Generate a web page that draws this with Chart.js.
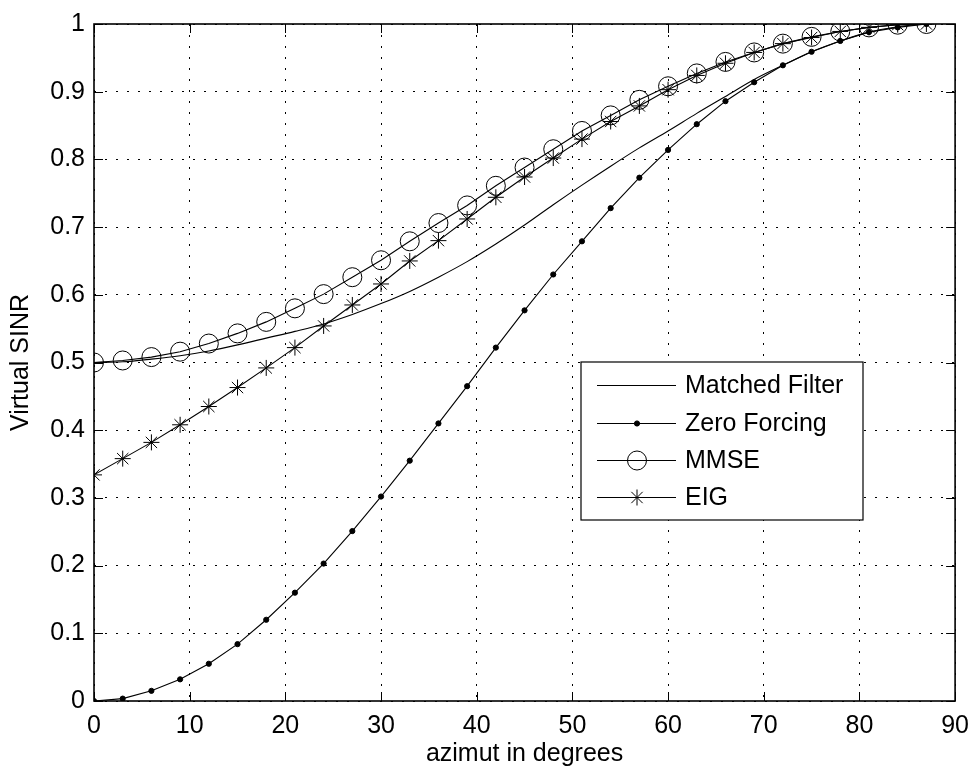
<!DOCTYPE html>
<html>
<head>
<meta charset="utf-8">
<script src="https://cdn.jsdelivr.net/npm/chart.js@4"></script>
<style>
  html, body { margin: 0; padding: 0; background: #fff; }
  #wrap { width: 979px; height: 771px; }
</style>
</head>
<body>
<div id="wrap"><canvas id="chart" width="979" height="771"></canvas></div>
<script>
const FONT = "'Liberation Sans', Arial, Helvetica, sans-serif";

// azimuth in degrees
const azimuth = [0, 3, 6, 9, 12, 15, 18, 21, 24, 27, 30, 33, 36, 39, 42,
                 45, 48, 51, 54, 57, 60, 63, 66, 69, 72, 75, 78, 81, 84, 87];

const matchedFilter = [0.500, 0.501, 0.505, 0.510, 0.517, 0.526, 0.536, 0.546, 0.557, 0.571,
                       0.587, 0.605, 0.626, 0.649, 0.675, 0.703, 0.733, 0.762, 0.790, 0.817,
                       0.842, 0.868, 0.893, 0.918, 0.939, 0.959, 0.975, 0.988, 0.996, 1.000];

const zeroForcing = [0.000, 0.0035, 0.015, 0.032, 0.055, 0.084, 0.120, 0.160, 0.203, 0.251,
                     0.302, 0.355, 0.410, 0.465, 0.522, 0.577, 0.630, 0.679, 0.728, 0.773,
                     0.814, 0.852, 0.886, 0.914, 0.939, 0.959, 0.975, 0.988, 0.995, 1.000];

const mmse = [0.500, 0.503, 0.508, 0.516, 0.528, 0.543, 0.560, 0.580, 0.601, 0.626,
              0.651, 0.679, 0.706, 0.732, 0.761, 0.788, 0.815, 0.842, 0.865, 0.888,
              0.908, 0.927, 0.944, 0.958, 0.971, 0.981, 0.989, 0.995, 0.999, 1.000];

const eig = [0.334, 0.358, 0.382, 0.408, 0.435, 0.463, 0.492, 0.522, 0.554, 0.585,
             0.616, 0.650, 0.680, 0.712, 0.744, 0.774, 0.802, 0.830, 0.856, 0.879,
             0.903, 0.924, 0.942, 0.958, 0.971, 0.980, 0.989, 0.995, 0.999, 1.000];

function toPoints(values) {
    return azimuth.map((x, i) => ({ x: x, y: values[i] }));
}

function series(label, values, style, radius) {
    return {
        label: label,
        data: toPoints(values),
        borderColor: '#000',
        backgroundColor: '#000',
        borderWidth: 1.1,
        pointStyle: style,
        pointRadius: radius,
        pointBorderWidth: 1,
        pointBackgroundColor: style === 'circle' && radius > 4 ? 'rgba(0,0,0,0)' : '#000',
        pointBorderColor: '#000',
        tension: 0,
        fill: false
    };
}

// matlab-like frame with inward ticks on all four sides
const framePlugin = {
    id: 'frame',
    afterDatasetsDraw(chart) {
        const { ctx, chartArea: a, scales } = chart;
        const len = 9;
        ctx.save();
        ctx.strokeStyle = '#000';
        ctx.lineWidth = 1;
        ctx.beginPath();
        scales.x.ticks.forEach(t => {
            const px = Math.round(scales.x.getPixelForValue(t.value)) + 0.5;
            ctx.moveTo(px, a.bottom); ctx.lineTo(px, a.bottom - len);
            ctx.moveTo(px, a.top); ctx.lineTo(px, a.top + len);
        });
        scales.y.ticks.forEach(t => {
            const py = Math.round(scales.y.getPixelForValue(t.value)) + 0.5;
            ctx.moveTo(a.left, py); ctx.lineTo(a.left + len, py);
            ctx.moveTo(a.right, py); ctx.lineTo(a.right - len, py);
        });
        ctx.stroke();
        ctx.lineWidth = 1.6;
        ctx.strokeRect(a.left, a.top, a.right - a.left, a.bottom - a.top);
        ctx.restore();
    }
};

// legend box inside the axes, lower right
const legendPlugin = {
    id: 'boxLegend',
    afterDraw(chart) {
        const ctx = chart.ctx;
        const box = { x: 581, y: 362, w: 282, h: 158 };
        const rowY = [385, 423, 460, 497];
        ctx.save();
        ctx.fillStyle = '#fff';
        ctx.fillRect(box.x, box.y, box.w, box.h);
        ctx.strokeStyle = '#000';
        ctx.lineWidth = 1.2;
        ctx.strokeRect(box.x, box.y, box.w, box.h);
        ctx.font = '25px ' + FONT;
        ctx.textBaseline = 'middle';
        chart.data.datasets.forEach((ds, i) => {
            const y = rowY[i];
            ctx.strokeStyle = '#000';
            ctx.lineWidth = 1;
            ctx.beginPath();
            ctx.moveTo(597, y + 0.5);
            ctx.lineTo(676, y + 0.5);
            ctx.stroke();
            if (ds.pointRadius > 0) {
                ctx.fillStyle = ds.pointBackgroundColor;
                Chart.helpers.drawPoint(ctx, {
                    pointStyle: ds.pointStyle,
                    radius: ds.pointRadius,
                    rotation: 0,
                    borderWidth: 1
                }, 637, y + 0.5);
            }
            ctx.fillStyle = '#000';
            ctx.fillText(ds.label, 685, y + 1);
        });
        ctx.restore();
    }
};

const mfSeries = series('Matched Filter', matchedFilter, 'circle', 0);
mfSeries.cubicInterpolationMode = 'monotone';

new Chart(document.getElementById('chart'), {
    type: 'line',
    data: {
        datasets: [
            mfSeries,
            series('Zero Forcing', zeroForcing, 'circle', 2.6),
            series('MMSE', mmse, 'circle', 9.5),
            series('EIG', eig, 'star', 8)
        ]
    },
    options: {
        responsive: false,
        animation: false,
        layout: { padding: { top: 16, right: 15, left: 0, bottom: 0 } },
        plugins: {
            legend: { display: false },
            tooltip: { enabled: false }
        },
        scales: {
            x: {
                type: 'linear',
                min: 0,
                max: 90,
                ticks: {
                    stepSize: 10,
                    color: '#000',
                    padding: 10,
                    font: { family: FONT, size: 25 }
                },
                grid: { color: '#000', lineWidth: 1, drawTicks: false },
                border: { display: false, dash: [2, 9] },
                title: {
                    display: true,
                    text: 'azimut in degrees',
                    color: '#000',
                    font: { family: FONT, size: 25 },
                    padding: { top: 0, bottom: 2 }
                },
                afterFit(scale) { scale.height = 70; }
            },
            y: {
                type: 'linear',
                min: 0,
                max: 1,
                ticks: {
                    stepSize: 0.1,
                    color: '#000',
                    padding: 9,
                    font: { family: FONT, size: 25 },
                    callback: v => String(Number(v.toFixed(1)))
                },
                grid: { color: '#000', lineWidth: 1, drawTicks: false },
                border: { display: false, dash: [2, 9] },
                title: {
                    display: true,
                    text: 'Virtual SINR',
                    color: '#000',
                    font: { family: FONT, size: 25 },
                    padding: { top: 6, bottom: 0 }
                },
                afterFit(scale) { scale.width = 94; }
            }
        }
    },
    plugins: [framePlugin, legendPlugin]
});
</script>
</body>
</html>
